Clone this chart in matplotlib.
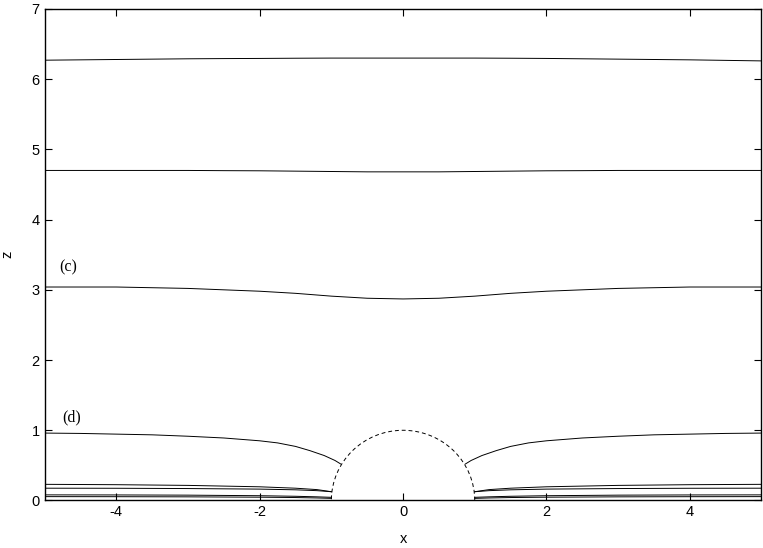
import numpy as np
import matplotlib
matplotlib.use("Agg")
import matplotlib.pyplot as plt
from matplotlib.patches import Arc

plt.rcParams["axes.unicode_minus"] = False

# field lines across the whole range
x_full = [-5, -4, -3, -2.5, -2, -1.5, -1, -0.5, 0, 0.5, 1, 1.5, 2, 2.5, 3, 4, 5]
z_a = [6.27, 6.28, 6.29, 6.293, 6.295, 6.298, 6.30, 6.30, 6.30, 6.30, 6.30, 6.298, 6.295, 6.29, 6.285, 6.275, 6.26]
z_b = [4.70, 4.70, 4.70, 4.697, 4.695, 4.69, 4.685, 4.68, 4.68, 4.68, 4.685, 4.69, 4.695, 4.697, 4.70, 4.70, 4.70]
z_c = [3.04, 3.04, 3.02, 3.00, 2.98, 2.95, 2.91, 2.88, 2.87, 2.88, 2.91, 2.95, 2.98, 3.00, 3.02, 3.04, 3.04]

# lines that end on the sphere (left half, mirrored on the right)
x_d = [-5, -4.5, -4, -3.5, -3, -2.5, -2, -1.75, -1.5, -1.3, -1.1, -0.95, -0.87]
z_d = [0.96, 0.955, 0.945, 0.935, 0.915, 0.89, 0.85, 0.82, 0.77, 0.71, 0.64, 0.57, 0.52]

x_low = [-5, -4, -3, -2, -1.5, -1.2, -1.0]
z_e = [0.23, 0.225, 0.215, 0.195, 0.175, 0.155, 0.125]
z_f = [0.175, 0.174, 0.17, 0.162, 0.152, 0.14, 0.125]
z_g = [0.08, 0.079, 0.076, 0.068, 0.06, 0.052, 0.045]
z_h = [0.055, 0.054, 0.052, 0.047, 0.042, 0.036, 0.03]

sphere_radius = 1.0

fig = plt.figure(figsize=(7.63, 5.48), dpi=100)
ax = fig.add_axes([0.0585, 0.0867, 0.9395, 0.897])

lw = 0.7
for z in (z_a, z_b, z_c):
    ax.plot(x_full, z, color="black", lw=lw)

for z in (z_d, z_e, z_f, z_g, z_h):
    xl = x_d if z is z_d else x_low
    ax.plot(xl, z, color="black", lw=lw)
    ax.plot([-v for v in xl], z, color="black", lw=lw)

ax.add_patch(Arc((0, 0), 2 * sphere_radius, 2 * sphere_radius, theta1=0, theta2=180,
                 color="black", lw=lw, linestyle=(0, (4, 3))))

ax.text(-4.67, 3.32, "(c)", family="Liberation Serif", fontsize=11.5, ha="center", va="center")
ax.text(-4.62, 1.18, "(d)", family="Liberation Serif", fontsize=11.5, ha="center", va="center")

ax.set_xlim(-5, 5)
ax.set_ylim(0, 7)
ax.set_xticks([-4, -2, 0, 2, 4])
ax.set_yticks(range(0, 8))
ax.tick_params(direction="in", top=True, right=True, length=5, width=0.8, labelsize=10.5)
for lab in ax.get_xticklabels() + ax.get_yticklabels():
    lab.set_family("Liberation Sans")
for s in ax.spines.values():
    s.set_linewidth(1.0)

ax.set_xlabel("x", family="Liberation Sans", fontsize=10.5, labelpad=9)
ax.set_ylabel("z", family="Liberation Sans", fontsize=10.5, labelpad=12)

fig.savefig("out.png", dpi=100)
